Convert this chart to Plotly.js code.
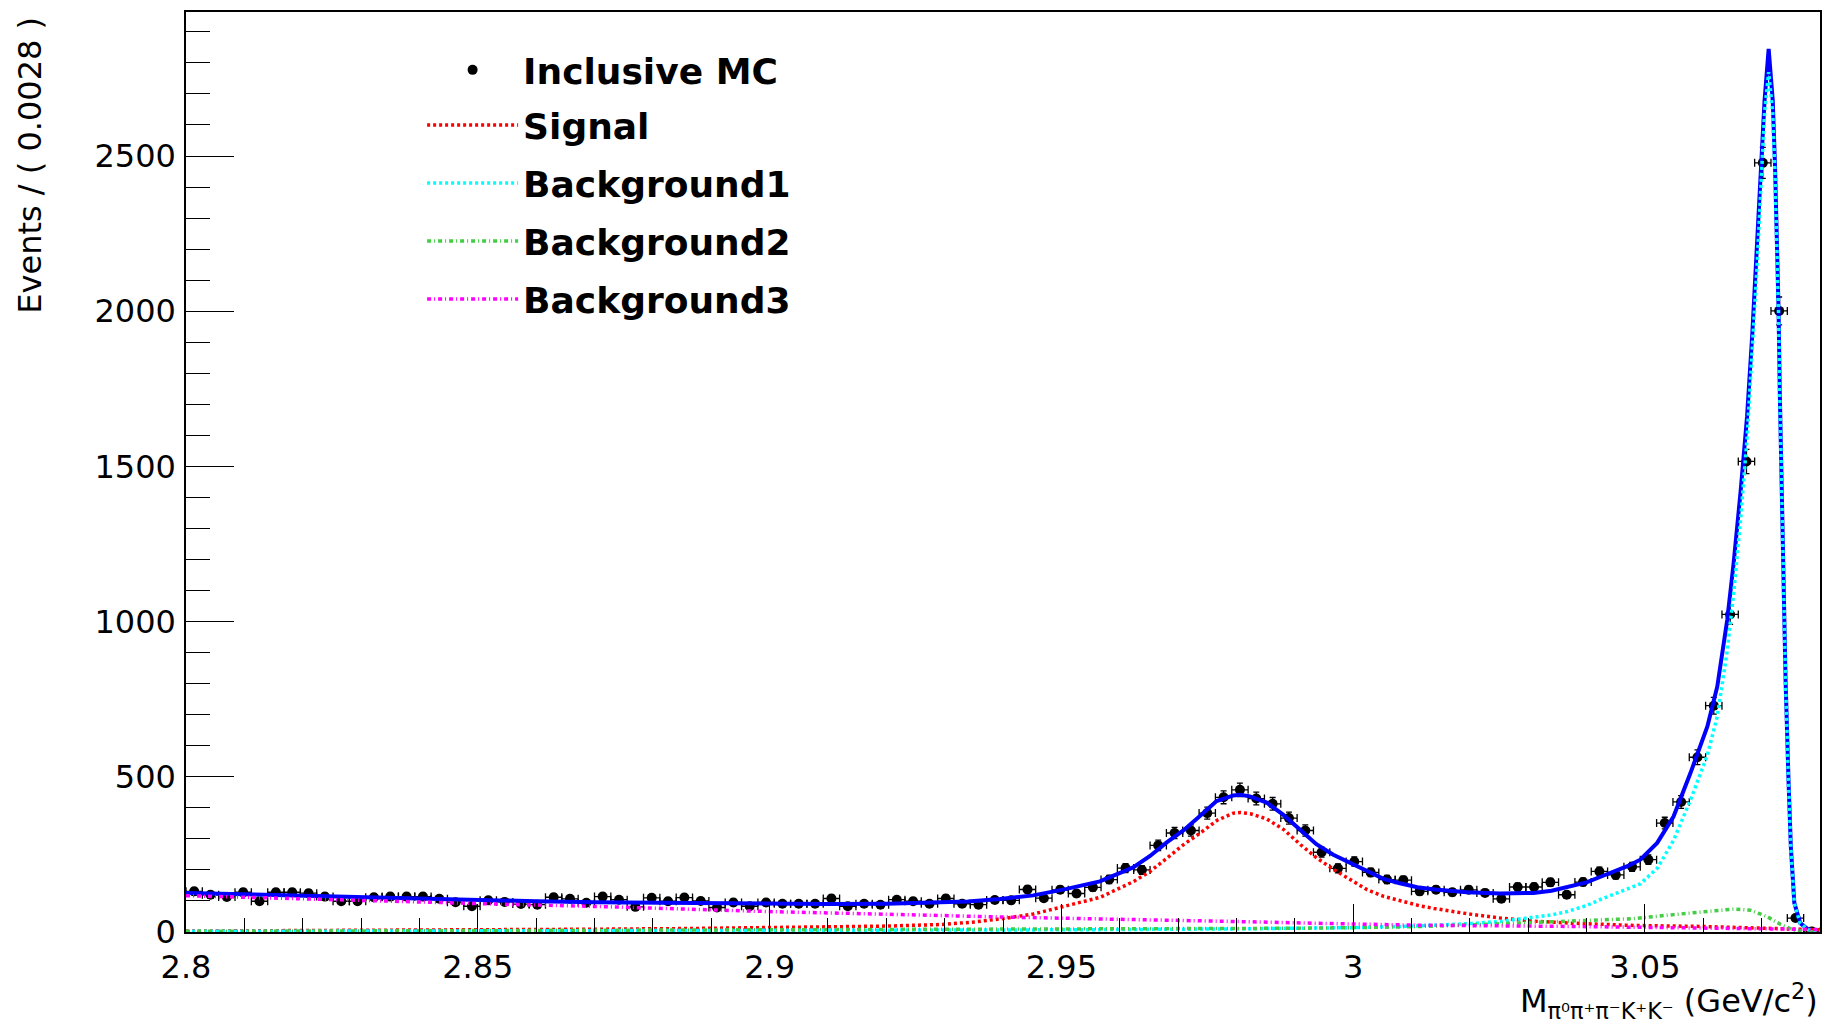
<!DOCTYPE html>
<html>
<head>
<meta charset="utf-8">
<script src="https://cdn.plot.ly/plotly-3.0.1.min.js"></script>
<style>html,body{margin:0;padding:0;background:#fff;}#chart{width:1823px;height:1026px;}</style>
</head>
<body>
<div id="chart"></div>
<script>
// ---- Binning (100 bins of 0.0028 from 2.8 to 3.08) ----
const xLow = 2.8;
const binWidth = 0.0028;

// ---- Inclusive MC counts per bin ----
const mcCounts = [
  131,120,113,128,99,128,128,125,114,99,
  99,112,114,114,114,107,96,83,102,97,
  90,88,112,107,94,114,104,81,110,99,
  111,100,79,95,83,95,91,91,91,108,
  83,91,88,104,99,91,108,91,88,103,
  102,137,109,136,124,144,169,206,200,279,
  319,327,383,434,458,430,413,367,327,257,
  205,227,192,169,167,131,136,128,136,126,
  107,145,145,160,120,161,195,184,210,233,
  351,419,563,729,1023,1516,2478,2001,45,2
];

// ---- Total fit (blue) ----
const totalX = [2.800,2.810,2.820,2.830,2.840,2.850,2.860,2.870,2.880,2.890,2.900,2.910,2.920,2.928,2.934,
  2.9395,2.9452,2.9509,2.9566,2.9623,2.9652,2.9680,2.9709,2.9737,2.9766,2.9795,2.9806,2.9823,2.9852,2.9880,
  2.9909,2.9937,2.9966,2.9995,3.0023,3.0052,3.0080,3.0110,3.0140,3.0195,3.0252,3.0309,3.0340,3.0367,3.0400,
  3.0424,3.0450,3.0470,3.0492,3.0521,3.0549,3.0578,3.0607,3.0624,3.0641,3.0652,3.0664,3.0675,3.0684,3.0692,
  3.0699,3.0705,3.0712,3.0719,3.0723,3.0726,3.0729,3.0731,3.0734,3.0737,3.0741,3.0746,3.0750,3.0756,3.0766,
  3.0780,3.0800];
const totalY = [126,121,116,111,106,102,99,96,94,92,91,90,91,94,98,
  106,118,139,163,208,245,288,327,373,422,440,442,437,417,378,
  330,283,249,222,195,171,157,144,137,128,124,126,133,144,160,
  178,196,212,233,287,372,512,662,791,1005,1188,1420,1660,1928,2196,
  2464,2679,2845,2679,2464,2250,2003,1750,1456,1134,812,490,276,94,29,
  8,2];

// ---- Signal (red) ----
const sigX = [2.800,2.820,2.840,2.860,2.870,2.885,2.905,2.9121,2.9200,2.9292,2.9350,2.9407,2.9452,2.9510,2.9567,
  2.9624,2.9652,2.9681,2.9709,2.9738,2.9767,2.9795,2.9807,2.9824,2.9852,2.9881,2.9910,2.9938,2.9967,2.9995,
  3.0024,3.0052,3.0081,3.0115,3.0138,3.0195,3.0252,3.0309,3.0367,3.0481,3.0595,3.0710,3.0784,3.0800];
const sigY = [3,4,5,6,9,11,15,16,19,24,32,45,58,85,112,
  163,195,238,281,319,360,383,385,381,364,330,281,238,201,169,
  136,115,101,84,76,59,45,35,29,21,18,13,8,7];

// ---- Background1 (cyan) ----
const bkg1X = [2.800,2.850,2.900,2.950,2.980,3.000,3.010,3.020,3.0252,3.0309,3.0340,3.0367,3.0400,3.0424,3.0450,
  3.0470,3.0492,3.0521,3.0549,3.0578,3.0607,3.0624,3.0641,3.0652,3.0664,3.0675,3.0684,3.0692,3.0699,3.0705,
  3.0712,3.0719,3.0723,3.0726,3.0729,3.0731,3.0734,3.0737,3.0741,3.0746,3.0750,3.0756,3.0766,3.0780,3.0800];
const bkg1Y = [2,3,5,7,10,14,19,27,34,46,55,66,85,105,125,
  140,155,205,295,425,570,695,905,1090,1330,1590,1870,2140,2410,2640,
  2770,2640,2440,2230,1990,1740,1450,1128,808,487,274,92,28,7,2];

// ---- Background2 (green) ----
const bkg2X = [2.800,2.850,2.900,2.950,2.980,2.990,3.000,3.010,3.020,3.030,3.040,3.0480,3.0549,3.0607,3.0652,
  3.0681,3.0709,3.0732,3.0755,3.0780,3.0800];
const bkg2Y = [2,4,6,8,10,12,14,17,23,30,37,43,56,67,74,70,50,25,6,1,0];

// ---- Background3 (magenta) ----
const bkg3X = [2.800,2.8275,2.8573,2.871,2.8841,2.8995,2.9138,2.9281,2.9407,2.9567,2.9704,2.9795,2.9967,3.011,3.0367,
  3.0652,3.0784,3.080];
const bkg3Y = [117,102,88,82,74,66,60,53,48,42,38,34,27,22,18,13,8,8];

// ---- Tick labels ----
const xTickVals = [2.8,2.85,2.9,2.95,3.0,3.05];
const xTickText = ['2.8','2.85','2.9','2.95','3','3.05'];
const yTickVals = [0,500,1000,1500,2000,2500];
const yTickText = ['0','500','1000','1500','2000','2500'];

const legendNames = ['Inclusive MC','Signal','Background1','Background2','Background3'];

// bin centres and Poisson errors
const binCenters = mcCounts.map((_, i) => xLow + (i + 0.5) * binWidth);
const mcErr = mcCounts.map(v => Math.sqrt(v));

const FONT = 'DejaVu Sans, Verdana, sans-serif';

const traces = [
  {
    x: binCenters, y: mcCounts, type: 'scatter', mode: 'markers',
    name: legendNames[0], legend: 'legend',
    marker: {color: '#000', size: 10},
    error_y: {type: 'data', array: mcErr, visible: true, color: '#000', thickness: 1.3, width: 3},
    error_x: {type: 'constant', value: binWidth / 2, visible: true, color: '#000', thickness: 1.3, width: 4}
  },
  {
    x: totalX, y: totalY, type: 'scatter', mode: 'lines', name: 'Total',
    showlegend: false, line: {color: '#0000ff', width: 4}
  },
  {
    x: sigX, y: sigY, type: 'scatter', mode: 'lines', name: legendNames[1], legend: 'legend2',
    line: {color: '#ff0000', width: 3.5, dash: '3px,3px'}
  },
  {
    x: bkg1X, y: bkg1Y, type: 'scatter', mode: 'lines', name: legendNames[2], legend: 'legend3',
    line: {color: '#00ffff', width: 3.5, dash: '3px,3px'}
  },
  {
    x: bkg2X, y: bkg2Y, type: 'scatter', mode: 'lines', name: legendNames[3], legend: 'legend4',
    line: {color: '#44cc44', width: 3.5, dash: '4px,3px,1px,3px'}
  },
  {
    x: bkg3X, y: bkg3Y, type: 'scatter', mode: 'lines', name: legendNames[4], legend: 'legend5',
    line: {color: '#ff00ff', width: 3.5, dash: '4px,3px,1px,3px'}
  }
];

function leg(y) {
  return {
    x: 0.1445, y: y, xanchor: 'left', yanchor: 'middle',
    bgcolor: 'rgba(0,0,0,0)', borderwidth: 0, itemwidth: 91,
    font: {family: FONT, size: 36, color: '#000', weight: 'bold'}
  };
}

const axisCommon = {
  showline: true, linecolor: '#000', linewidth: 1.5, mirror: true,
  showgrid: false, zeroline: false, ticks: 'inside', tickcolor: '#000', tickwidth: 1.2,
  tickfont: {family: FONT, size: 32, color: '#000'}
};

const layout = {
  width: 1823, height: 1026,
  margin: {l: 186, r: 3, t: 12, b: 94, pad: 0},
  paper_bgcolor: '#fff', plot_bgcolor: '#fff',
  showlegend: true,
  xaxis: Object.assign({}, axisCommon, {
    range: [2.8, 3.08], tickmode: 'array', tickvals: xTickVals, ticktext: xTickText,
    ticklen: 28, ticklabelstandoff: 6,
    minor: {dtick: 0.01, tick0: 2.8, ticks: 'inside', ticklen: 14, tickcolor: '#000', tickwidth: 1.2, showgrid: false}
  }),
  yaxis: Object.assign({}, axisCommon, {
    range: [0, 2964], tickmode: 'array', tickvals: yTickVals, ticktext: yTickText,
    ticklen: 48, ticklabelstandoff: 2,
    minor: {dtick: 100, tick0: 0, ticks: 'inside', ticklen: 24, tickcolor: '#000', tickwidth: 1.2, showgrid: false}
  }),
  legend: leg(0.937),
  legend2: leg(0.877),
  legend3: leg(0.814),
  legend4: leg(0.751),
  legend5: leg(0.688),
  annotations: [
    {
      text: 'Events / ( 0.0028 )', xref: 'paper', yref: 'paper', x: -0.0955, y: 0.834,
      xanchor: 'center', yanchor: 'middle', textangle: -90, showarrow: false,
      font: {family: FONT, size: 32, color: '#000'}
    },
    {
      text: 'M<sub>π⁰π⁺π⁻K⁺K⁻</sub> (GeV/c<sup>2</sup>)', xref: 'paper', yref: 'paper', x: 1.0, y: -0.102,
      xanchor: 'right', yanchor: 'bottom', showarrow: false,
      font: {family: FONT, size: 32, color: '#000'}
    }
  ]
};

Plotly.newPlot('chart', traces, layout, {displayModeBar: false, responsive: false});
</script>
</body>
</html>
